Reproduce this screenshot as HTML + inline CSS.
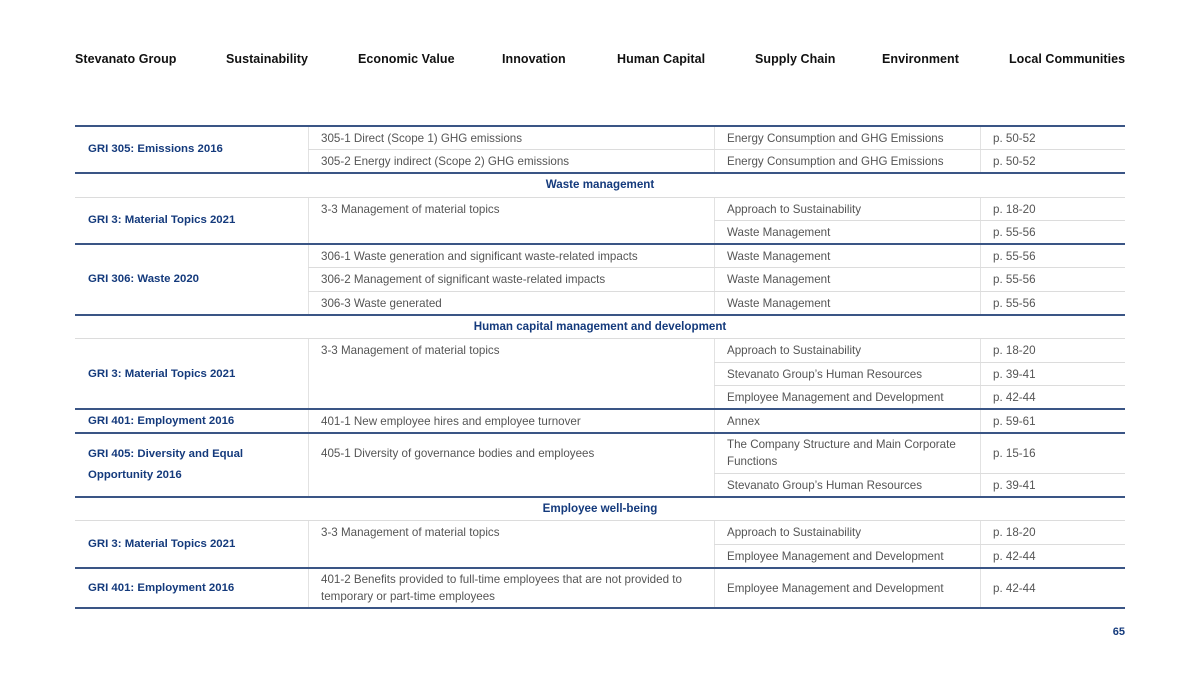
<!DOCTYPE html>
<html><head><meta charset="utf-8"><style>
body{margin:0;width:1200px;height:675px;background:#fff;position:relative;overflow:hidden;font-family:"Liberation Sans",sans-serif}
.n{position:absolute;top:52px;font-size:12.5px;font-weight:bold;color:#111;letter-spacing:0.05px}
.h{position:absolute;left:75px;width:1050px;height:2px;background:#3a5585}
.g{position:absolute;height:1px;background:#dcdcdc}
.v{position:absolute;width:1px;background:#e2e2e2}
.t{position:absolute;font-size:11.6px;color:#555;line-height:17px}
.b{position:absolute;font-size:11.4px;font-weight:bold;color:#143a7c;line-height:21px}
.s{position:absolute;left:75px;width:1050px;text-align:center;font-size:11.6px;font-weight:bold;color:#143a7c}
</style></head><body>
<div class="n" style="left:75px">Stevanato Group</div>
<div class="n" style="left:226px">Sustainability</div>
<div class="n" style="left:358px">Economic Value</div>
<div class="n" style="left:502px">Innovation</div>
<div class="n" style="left:617px">Human Capital</div>
<div class="n" style="left:755px">Supply Chain</div>
<div class="n" style="left:882px">Environment</div>
<div class="n" style="left:1009px">Local Communities</div>

<div class="v" style="left:308px;top:127px;height:46px"></div><div class="v" style="left:714px;top:127px;height:46px"></div><div class="v" style="left:980px;top:127px;height:46px"></div>
<div class="v" style="left:308px;top:198px;height:117px"></div><div class="v" style="left:714px;top:198px;height:117px"></div><div class="v" style="left:980px;top:198px;height:117px"></div>
<div class="v" style="left:308px;top:339px;height:158px"></div><div class="v" style="left:714px;top:339px;height:158px"></div><div class="v" style="left:980px;top:339px;height:158px"></div>
<div class="v" style="left:308px;top:521px;height:87px"></div><div class="v" style="left:714px;top:521px;height:87px"></div><div class="v" style="left:980px;top:521px;height:87px"></div>

<div class="h" style="top:125px"></div>
<div class="g" style="left:308px;width:817px;top:149px"></div>
<div class="h" style="top:172px"></div>
<div class="g" style="left:75px;width:1050px;top:197px"></div>
<div class="g" style="left:714px;width:411px;top:220px"></div>
<div class="h" style="top:243px"></div>
<div class="g" style="left:308px;width:817px;top:267px"></div>
<div class="g" style="left:308px;width:817px;top:291px"></div>
<div class="h" style="top:314px"></div>
<div class="g" style="left:75px;width:1050px;top:338px"></div>
<div class="g" style="left:714px;width:411px;top:362px"></div>
<div class="g" style="left:714px;width:411px;top:385px"></div>
<div class="h" style="top:408px"></div>
<div class="h" style="top:432px"></div>
<div class="g" style="left:714px;width:411px;top:473px"></div>
<div class="h" style="top:496px"></div>
<div class="g" style="left:75px;width:1050px;top:520px"></div>
<div class="g" style="left:714px;width:411px;top:544px"></div>
<div class="h" style="top:567px"></div>
<div class="h" style="top:607px"></div>

<div class="b" style="left:88px;top:139px">GRI 305: Emissions 2016</div>
<div class="t" style="left:321px;top:130px">305-1 Direct (Scope 1) GHG emissions</div>
<div class="t" style="left:727px;top:130px">Energy Consumption and GHG Emissions</div>
<div class="t" style="left:993px;top:130px">p. 50-52</div>
<div class="t" style="left:321px;top:153px">305-2 Energy indirect (Scope 2) GHG emissions</div>
<div class="t" style="left:727px;top:153px">Energy Consumption and GHG Emissions</div>
<div class="t" style="left:993px;top:153px">p. 50-52</div>
<div class="s" style="top:178px">Waste management</div>

<div class="b" style="left:88px;top:210px">GRI 3: Material Topics 2021</div>
<div class="t" style="left:321px;top:201px">3-3 Management of material topics</div>
<div class="t" style="left:727px;top:201px">Approach to Sustainability</div>
<div class="t" style="left:993px;top:201px">p. 18-20</div>
<div class="t" style="left:727px;top:224px">Waste Management</div>
<div class="t" style="left:993px;top:224px">p. 55-56</div>

<div class="b" style="left:88px;top:269px">GRI 306: Waste 2020</div>
<div class="t" style="left:321px;top:248px">306-1 Waste generation and significant waste-related impacts</div>
<div class="t" style="left:727px;top:248px">Waste Management</div>
<div class="t" style="left:993px;top:248px">p. 55-56</div>
<div class="t" style="left:321px;top:271px">306-2 Management of significant waste-related impacts</div>
<div class="t" style="left:727px;top:271px">Waste Management</div>
<div class="t" style="left:993px;top:271px">p. 55-56</div>
<div class="t" style="left:321px;top:295px">306-3 Waste generated</div>
<div class="t" style="left:727px;top:295px">Waste Management</div>
<div class="t" style="left:993px;top:295px">p. 55-56</div>
<div class="s" style="top:320px">Human capital management and development</div>

<div class="b" style="left:88px;top:364px">GRI 3: Material Topics 2021</div>
<div class="t" style="left:321px;top:342px">3-3 Management of material topics</div>
<div class="t" style="left:727px;top:342px">Approach to Sustainability</div>
<div class="t" style="left:993px;top:342px">p. 18-20</div>
<div class="t" style="left:727px;top:366px">Stevanato Group’s Human Resources</div>
<div class="t" style="left:993px;top:366px">p. 39-41</div>
<div class="t" style="left:727px;top:389px">Employee Management and Development</div>
<div class="t" style="left:993px;top:389px">p. 42-44</div>

<div class="b" style="left:88px;top:411px">GRI 401: Employment 2016</div>
<div class="t" style="left:321px;top:413px">401-1 New employee hires and employee turnover</div>
<div class="t" style="left:727px;top:413px">Annex</div>
<div class="t" style="left:993px;top:413px">p. 59-61</div>

<div class="b" style="left:88px;top:444px">GRI 405: Diversity and Equal<br>Opportunity 2016</div>
<div class="t" style="left:321px;top:445px">405-1 Diversity of governance bodies and employees</div>
<div class="t" style="left:727px;top:436px">The Company Structure and Main Corporate<br>Functions</div>
<div class="t" style="left:993px;top:445px">p. 15-16</div>
<div class="t" style="left:727px;top:477px">Stevanato Group’s Human Resources</div>
<div class="t" style="left:993px;top:477px">p. 39-41</div>
<div class="s" style="top:502px">Employee well-being</div>

<div class="b" style="left:88px;top:534px">GRI 3: Material Topics 2021</div>
<div class="t" style="left:321px;top:524px">3-3 Management of material topics</div>
<div class="t" style="left:727px;top:524px">Approach to Sustainability</div>
<div class="t" style="left:993px;top:524px">p. 18-20</div>
<div class="t" style="left:727px;top:548px">Employee Management and Development</div>
<div class="t" style="left:993px;top:548px">p. 42-44</div>

<div class="b" style="left:88px;top:578px">GRI 401: Employment 2016</div>
<div class="t" style="left:321px;top:571px">401-2 Benefits provided to full-time employees that are not provided to<br>temporary or part-time employees</div>
<div class="t" style="left:727px;top:580px">Employee Management and Development</div>
<div class="t" style="left:993px;top:580px">p. 42-44</div>

<div style="position:absolute;left:1100px;width:25px;text-align:right;top:626px;font-size:11px;font-weight:bold;color:#143a7c">65</div>
</body></html>
